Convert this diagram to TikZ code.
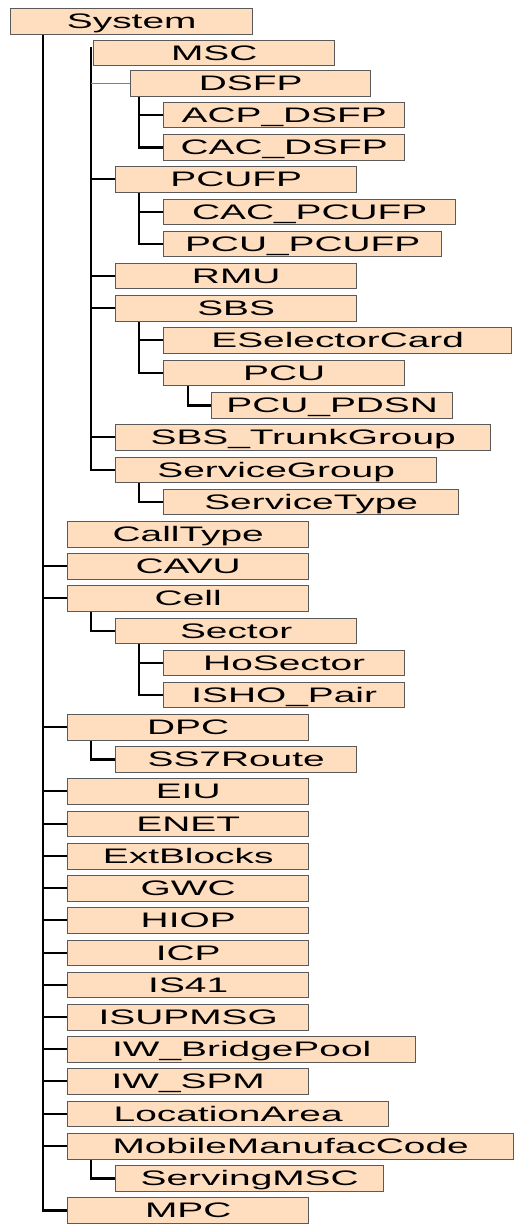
\documentclass[tikz,border=0pt]{standalone}
\usepackage{fontspec}
\newfontfamily\boxfont{Liberation Sans}[FakeStretch=1.85]
\definecolor{peach}{RGB}{255,222,192}
\definecolor{boxline}{RGB}{90,90,90}
\begin{document}
\begin{tikzpicture}[x=1pt,y=-1pt,
  box/.style={draw=boxline, line width=1.4pt, fill=peach, anchor=north west,
    minimum height=25.5pt, inner sep=0pt, text height=15pt, text depth=0pt,
    font=\boxfont\fontsize{21}{21}\selectfont},
  conn/.style={black, line width=2pt},
  trunk/.style={black, line width=2.6pt},
  thin/.style={gray, line width=1pt}]
\useasboundingbox (0,0) rectangle (514,1224);
\coordinate (t1) at (43,0);
\coordinate (t2) at (91,0);
\coordinate (t3) at (139,0);
\coordinate (t4) at (188,0);
% nodes
\node[box, minimum width=242pt] (sys) at (10,8) {System};
\node[box, minimum width=241pt] (msc) at (93,39.5) {MSC};
\node[box, minimum width=240pt] (dsfp) at (130,70) {DSFP};
\node[box, minimum width=241pt] (acpd) at (163,101.5) {ACP\_DSFP};
\node[box, minimum width=241pt] (cacd) at (163,134) {CAC\_DSFP};
\node[box, minimum width=241pt] (pcufp) at (115,166) {PCUFP};
\node[box, minimum width=292pt] (cacp) at (163,198.5) {CAC\_PCUFP};
\node[box, minimum width=278pt] (pcup) at (163,230.5) {PCU\_PCUFP};
\node[box, minimum width=241pt] (rmu) at (115,262.5) {RMU};
\node[box, minimum width=241pt] (sbs) at (115,295) {SBS};
\node[box, minimum width=348pt] (esel) at (163,327) {ESelectorCard};
\node[box, minimum width=241pt] (pcu) at (163,359.5) {PCU};
\node[box, minimum width=241pt] (pdsn) at (211,392) {PCU\_PDSN};
\node[box, minimum width=375pt] (sbstg) at (115,424) {SBS\_TrunkGroup};
\node[box, minimum width=321pt] (sg) at (115,456.5) {ServiceGroup};
\node[box, minimum width=295pt] (st) at (163,488.5) {ServiceType};
\node[box, minimum width=241pt] (calltype) at (67,521) {CallType};
\node[box, minimum width=241pt] (cavu) at (67,553) {CAVU};
\node[box, minimum width=241pt] (cell) at (67,585) {Cell};
\node[box, minimum width=241pt] (sector) at (115,617.5) {Sector};
\node[box, minimum width=241pt] (hos) at (163,649.5) {HoSector};
\node[box, minimum width=241pt] (isho) at (163,681.5) {ISHO\_Pair};
\node[box, minimum width=241pt] (dpc) at (67,714) {DPC};
\node[box, minimum width=241pt] (ss7) at (115,746) {SS7Route};
\node[box, minimum width=241pt] (eiu) at (67,778) {EIU};
\node[box, minimum width=241pt] (enet) at (67,810.5) {ENET};
\node[box, minimum width=241pt] (ext) at (67,843) {ExtBlocks};
\node[box, minimum width=241pt] (gwc) at (67,875) {GWC};
\node[box, minimum width=241pt] (hiop) at (67,907) {HIOP};
\node[box, minimum width=241pt] (icp) at (67,939.5) {ICP};
\node[box, minimum width=241pt] (is41) at (67,971.5) {IS41};
\node[box, minimum width=241pt] (isup) at (67,1004) {ISUPMSG};
\node[box, minimum width=348pt] (iwbp) at (67,1036) {IW\_BridgePool};
\node[box, minimum width=241pt] (iwspm) at (67,1068) {IW\_SPM};
\node[box, minimum width=321pt] (la) at (67,1100.5) {LocationArea};
\node[box, minimum width=446pt] (mmc) at (67,1133) {MobileManufacCode};
\node[box, minimum width=268pt] (smsc) at (115,1165) {ServingMSC};
\node[box, minimum width=241pt] (mpc) at (67,1197) {MPC};
% main trunk
\draw[trunk] (sys.south -| t1) |- (mpc.west);
\foreach \n in {cavu,cell,dpc,eiu,enet,ext,gwc,hiop,icp,is41,isup,iwbp,iwspm,la,mmc}
  \draw[conn] (\n.west) -- (\n.west -| t1);
% second-level trunk under MSC
\draw[trunk] ([yshift=6pt]msc.west -| t2) |- (sg.west);
\draw[thin] (dsfp.west) -- (dsfp.west -| t2);
\foreach \n in {pcufp,rmu,sbs,sbstg}
  \draw[conn] (\n.west) -- (\n.west -| t2);
% DSFP children
\draw[trunk] (dsfp.south -| t3) |- (cacd.west);
\draw[conn] (acpd.west) -- (acpd.west -| t3);
% PCUFP children
\draw[trunk] (pcufp.south -| t3) |- (pcup.west);
\draw[conn] (cacp.west) -- (cacp.west -| t3);
% SBS children
\draw[trunk] (sbs.south -| t3) |- (pcu.west);
\draw[conn] (esel.west) -- (esel.west -| t3);
\draw[trunk] (pcu.south -| t4) |- (pdsn.west);
% ServiceGroup child
\draw[trunk] (sg.south -| t3) |- (st.west);
% Cell children
\draw[trunk] (cell.south -| t2) |- (sector.west);
\draw[trunk] (sector.south -| t3) |- (isho.west);
\draw[conn] (hos.west) -- (hos.west -| t3);
% DPC child
\draw[trunk] (dpc.south -| t2) |- (ss7.west);
% MobileManufacCode child
\draw[trunk] (mmc.south -| t2) |- (smsc.west);
\end{tikzpicture}
\end{document}
